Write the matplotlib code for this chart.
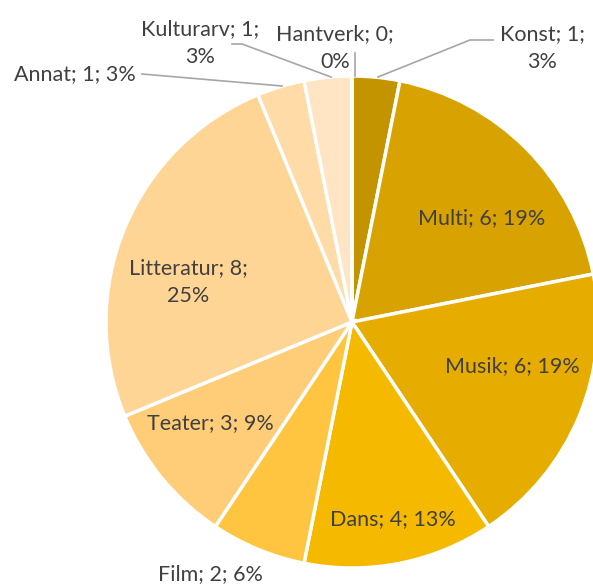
import numpy as np
import matplotlib.pyplot as plt

# data
categories = ["Konst", "Multi", "Musik", "Dans", "Film", "Teater",
              "Litteratur", "Annat", "Kulturarv", "Hantverk"]
counts = [1, 6, 6, 4, 2, 3, 8, 1, 1, 0]
colors = ["#C49400", "#D8A200", "#E6AD00", "#F5BA00", "#FFC540",
          "#FFCC77", "#FFD595", "#FFDBA8", "#FFE5C4", "#FFEBD2"]

W, H = 593, 585
CX, CY, R = 352, H - 322, 246
TXT = "#404040"
LINE = "#A6A6A6"

plt.rcParams['font.family'] = ['Lato', 'DejaVu Sans']

fig = plt.figure(figsize=(W / 100, H / 100), dpi=100)
ax = fig.add_axes([0, 0, 1, 1])

ax.pie(counts, colors=colors, startangle=90, counterclock=False,
       center=(CX, CY), radius=R, frame=True,
       wedgeprops=dict(edgecolor="white", linewidth=2.5))
ax.set_xlim(0, W)
ax.set_ylim(0, H)
ax.axis('off')

total = sum(counts)

def lab(i, two_lines=False):
    c, n = categories[i], counts[i]
    p = round(100 * n / total + 1e-9)
    if two_lines:
        return f"{c}; {n};\n{p}%"
    return f"{c}; {n}; {p}%"

# label positions (image pixel coords, y from top)
pos = {
    0: (542, 48, True),
    1: (482, 218, False),
    2: (512, 366, False),
    3: (393, 519, False),
    4: (210, 574, False),
    5: (210, 423, False),
    6: (188, 282, True),
    7: (75, 74, False),
    8: (200, 43, True),
    9: (335, 48, True),
}
fs = 15.5
for i, (x, y, two) in pos.items():
    ax.text(x, H - y, lab(i, two), ha='center', va='center', fontsize=fs,
            color=TXT, linespacing=1.5)

# leader lines
leaders = [
    [(378, 77), (470, 40), (493, 40)],
    [(355, 76), (355, 53)],
    [(331, 77), (242, 44), (232, 44)],
    [(282, 86), (142, 74)],
]
for pts in leaders:
    xs = [p[0] for p in pts]
    ys = [H - p[1] for p in pts]
    ax.plot(xs, ys, color=LINE, linewidth=1.2)

fig.savefig("out.png", dpi=100)
